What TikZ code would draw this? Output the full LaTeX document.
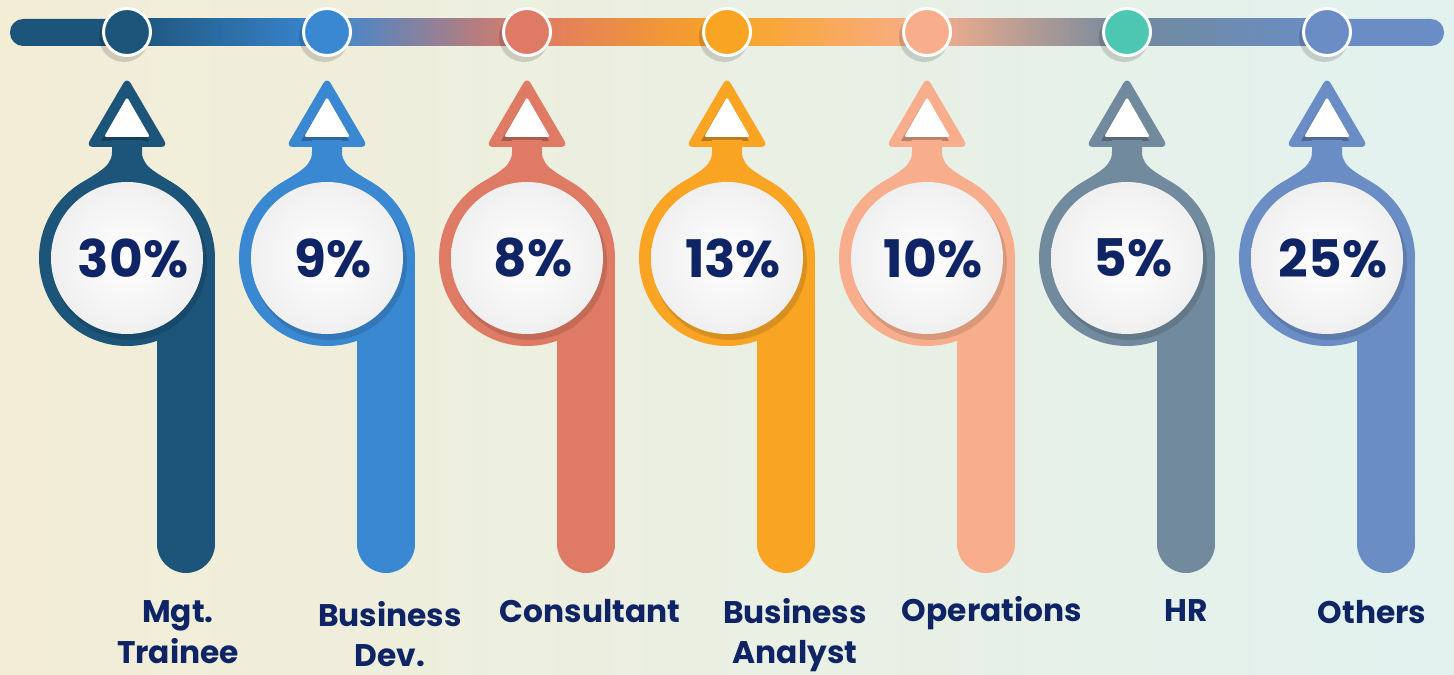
\documentclass[tikz,border=0pt]{standalone}
\usepackage{fontspec}
\setmainfont{Poppins}
\usepackage{tikz}
\usetikzlibrary{positioning,calc}

\definecolor{pinA}{HTML}{1D5479}
\definecolor{pinB}{HTML}{3A88D2}
\definecolor{pinC}{HTML}{DF7A64}
\definecolor{pinD}{HTML}{F9A423}
\definecolor{pinE}{HTML}{F8AE8C}
\definecolor{pinF}{HTML}{718A9E}
\definecolor{pinG}{HTML}{6A8DC5}
\definecolor{dotF}{HTML}{4EC7B2}
\definecolor{mauve}{HTML}{977A90}
\definecolor{greyish}{HTML}{948C94}
\definecolor{txt}{HTML}{0E2464}
\definecolor{bgl}{HTML}{F3EDD6}
\definecolor{bgr}{HTML}{E2F2EF}

\begin{document}
\begin{tikzpicture}[x=0.02cm,y=-0.02cm,
    pct/.style={font=\fontsize{29.5}{36}\selectfont\bfseries, text=txt},
    lbl/.style={font=\fontsize{17.8}{23}\selectfont\bfseries, text=txt, align=center}]
        % Background
        \fill[left color=bgl, right color=bgr] (0,0) rectangle (1454,675);
        \useasboundingbox (0,0) rectangle (1454,675);

        % Top bar
        \fill[pinA, rounded corners=7.5pt] (10,19) rectangle (150,46);
        \fill[left color=pinA, right color=pinB] (127,19) rectangle (327,46);
        \fill[left color=pinB, middle color=mauve, right color=pinC] (327,19) rectangle (527,46);
        \fill[left color=pinC, right color=pinD] (527,19) rectangle (727,46);
        \fill[left color=pinD, right color=pinE] (727,19) rectangle (927,46);
        \fill[left color=pinE, middle color=greyish, right color=pinF] (927,19) rectangle (1127,46);
        \fill[left color=pinF, right color=pinG] (1127,19) rectangle (1327,46);
        \fill[pinG, rounded corners=7.5pt] (1300,19) rectangle (1444,46);

        % Pins
        \foreach \i/\col/\dot/\p in {0/pinA/pinA/30, 1/pinB/pinB/9, 2/pinC/pinC/8,
            3/pinD/pinD/13, 4/pinE/pinE/10, 5/pinF/dotF/5, 6/pinG/pinG/25} {
            \pgfmathsetmacro\cx{127+200*\i}
            % dot on the bar
            \fill[black, opacity=0.15] (\cx-3,37) circle (25);
            \fill[\dot, draw=white, line width=1.7pt] (\cx,32) circle (23.5);
            % triangle
            \fill[\col, rounded corners=4pt] (\cx,77) -- (\cx+41,147) -- (\cx-41,147) -- cycle;
            \fill[\col!75!black] (\cx-2,100) -- (\cx+22,141) -- (\cx-26,141) -- cycle;
            \fill[white, rounded corners=1pt] (\cx,97) -- (\cx+23,137) -- (\cx-23,137) -- cycle;
            % neck
            \fill[\col] (\cx-15,140) -- (\cx-15,152) .. controls (\cx-15,170) and (\cx-35,173) .. (\cx-60,194)
                -- (\cx+60,194) .. controls (\cx+35,173) and (\cx+15,170) .. (\cx+15,152) -- (\cx+15,140) -- cycle;
            % ring and stem
            \fill[\col] (\cx,258) circle (88);
            \fill[\col] (\cx+30,258) rectangle (\cx+88,544);
            \fill[\col] (\cx+59,544) circle (29);
            % white disc
            \fill[\col!60!black, opacity=0.3] (\cx+3,263) circle (77);
            \shade[inner color=white, outer color=gray!12] (\cx,258) circle (76);
            \node[pct] (p\i) at (\cx+6,258) {\p\%};
        }

        % Labels
        \node[lbl] (l0) at (178,632) {Mgt.\\Trainee};
        \node[lbl] (l1) at (390,634) {Business\\Dev.};
        \node[lbl] (l2) at (590,611) {Consultant};
        \node[lbl] (l3) at (795,635) {Business\\Analyst};
        \node[lbl] (l4) at (992,613) {Operations};
        \node[lbl] (l5) at (1186,611) {HR};
        \node[lbl] (l6) at (1372,612) {Others};
    \end{tikzpicture}
\end{document}
